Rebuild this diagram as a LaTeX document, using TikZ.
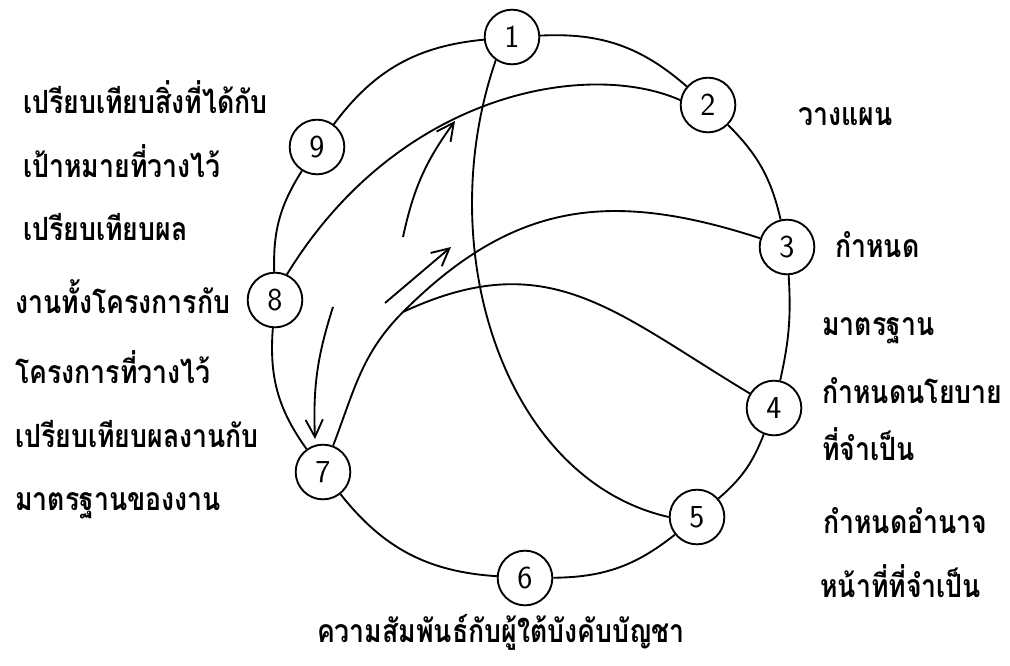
\documentclass[tikz,border=0pt]{standalone}
\usepackage{fontspec}
\usepackage{graphicx}
\newfontfamily\thai[Script=Thai]{Loma}
\usetikzlibrary{arrows.meta}
\newcommand\thtxt[1]{\scalebox{1}[1.2]{#1}}
\tikzset{
  nd/.style={circle, draw, line width=1.4pt, minimum size=41pt, inner sep=0pt, font=\fontsize{24}{24}\sffamily},
  ln/.style={line width=1.4pt},
  arr/.style={line width=1.4pt, -{Straight Barb[length=13pt,width=13pt,line width=1.4pt]}},
  lbl/.style={inner sep=0pt, anchor=base west, font=\thai\bfseries\fontsize{20}{24}\selectfont},
}
\begin{document}
\begin{tikzpicture}[x=0.75pt,y=0.75pt]
\useasboundingbox (0,0) rectangle (1010,-665);
% nodes on the ring
\node[nd] (n1) at (512,-37) {1};
\node[nd] (n2) at (708,-105) {2};
\node[nd] (n3) at (787,-247) {3};
\node[nd] (n4) at (774,-408) {4};
\node[nd] (n5) at (697,-517) {5};
\node[nd] (n6) at (525,-578) {6};
\node[nd] (n7) at (323,-472) {7};
\node[nd] (n8) at (275,-300) {8};
\node[nd] (n9) at (317,-147) {9};
% ring
\draw[ln] (n1) to[bend left=22] (n2);
\draw[ln] (n2) to[bend left=16] (n3);
\draw[ln] (n3) to[bend left=8] (n4);
\draw[ln] (n4) to[bend left=14] (n5);
\draw[ln] (n5) to[bend left=19] (n6);
\draw[ln] (n6) to[bend left=24] (n7);
\draw[ln] (n7) to[bend left=20] (n8);
\draw[ln] (n8) to[bend left=17] (n9);
\draw[ln] (n9) to[bend left=24] (n1);
% chords
\coordinate (J) at (403,-312);
\draw[ln] (n1.235) .. controls (430,-250) and (505,-480) .. (n5.180);
\draw[ln] (n2.170) .. controls (590,-60) and (400,-90) .. (n8.65);
\draw[ln] (n3) to[out=162, in=45, looseness=1.1] (J) to[out=225, in=69] (n7);
\draw[ln] (n4) to[out=149, in=25, looseness=1.15] (J);
% arrows
\coordinate (a1s) at (403,-237); \coordinate (a1e) at (455,-121);
\draw[arr] (a1s) to[bend left=12] (a1e);
\coordinate (a2s) at (385,-303); \coordinate (a2e) at (451,-247);
\draw[arr] (a2s) -- (a2e);
\coordinate (a3s) at (333,-307); \coordinate (a3e) at (315,-439);
\draw[arr] (a3s) to[bend right=10] (a3e);
% left labels
\node[lbl] (l1) at (23,-113) {\thtxt{เปรียบเทียบสิ่งที่ได้กับ}};
\node[lbl] (l2) at (23,-177) {\thtxt{เป้าหมายที่วางไว้}};
\node[lbl] (l3) at (23,-240) {\thtxt{เปรียบเทียบผล}};
\node[lbl] (l4) at (15,-313) {\thtxt{งานทั้งโครงการกับ}};
\node[lbl] (l5) at (15,-383) {\thtxt{โครงการที่วางไว้}};
\node[lbl] (l6) at (15,-447) {\thtxt{เปรียบเทียบผลงานกับ}};
\node[lbl] (l7) at (15,-510) {\thtxt{มาตรฐานของงาน}};
% right labels
\node[lbl] (r1) at (798,-125) {\thtxt{วางแผน}};
\node[lbl] (r2) at (835,-257) {\thtxt{กำหนด}};
\node[lbl] (r3) at (822,-335) {\thtxt{มาตรฐาน}};
\node[lbl] (r4) at (822,-403) {\thtxt{กำหนดนโยบาย}};
\node[lbl] (r5) at (822,-460) {\thtxt{ที่จำเป็น}};
\node[lbl] (r6) at (823,-533) {\thtxt{กำหนดอำนาจ}};
\node[lbl] (r7) at (820,-597) {\thtxt{หน้าที่ที่จำเป็น}};
% caption
\node[lbl, anchor=base] (cap) at (501,-642) {\thtxt{ความสัมพันธ์กับผู้ใต้บังคับบัญชา}};
\end{tikzpicture}
\end{document}
